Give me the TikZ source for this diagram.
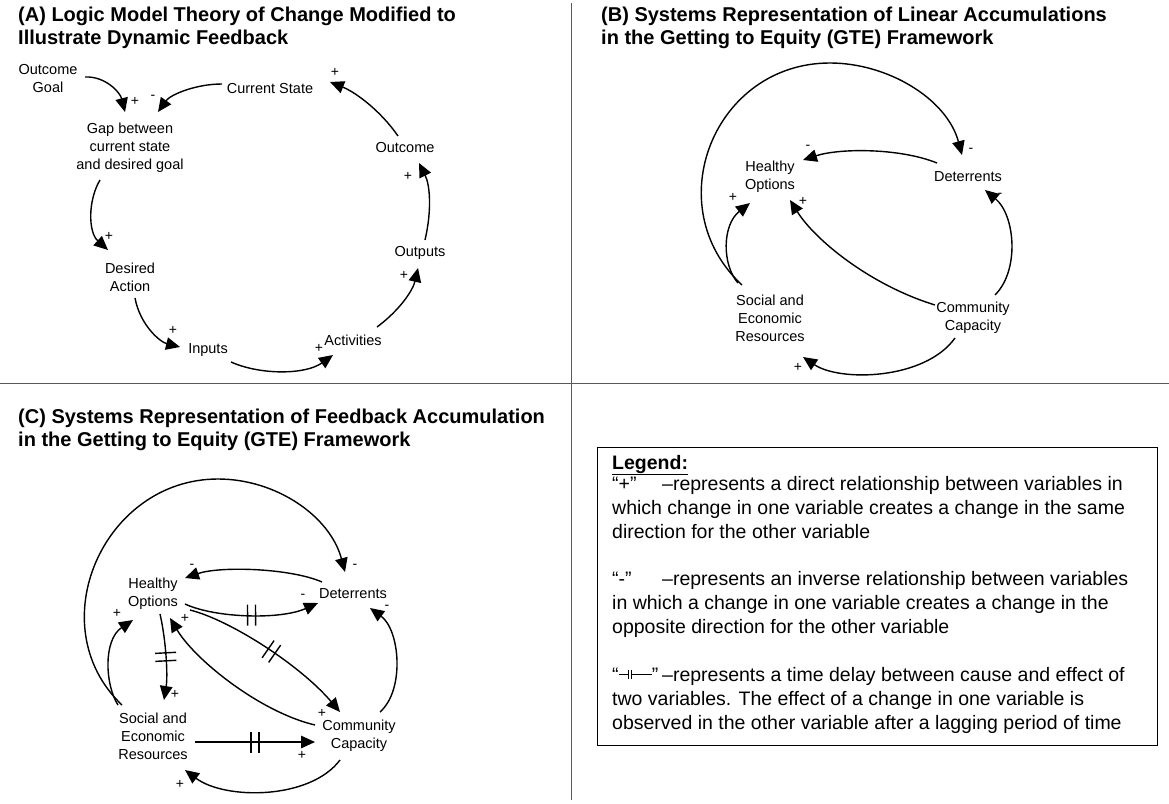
\documentclass[tikz,border=0pt]{standalone}
\usepackage{fontspec}
\setmainfont{Liberation Sans}
\usetikzlibrary{arrows.meta,decorations.markings}
\newcommand\dlysym{\rule[0.3em]{0.5em}{0.05em}\rule[0.1em]{0.05em}{0.45em}\hspace{0.1em}\rule[0.1em]{0.05em}{0.45em}\rule[0.3em]{1.0em}{0.05em}}
\tikzset{
 var/.style={align=center, font=\fontsize{14.5}{18}\selectfont, inner sep=1pt},
 sgn/.style={font=\fontsize{14}{14}\selectfont, inner sep=0pt},
 ttl/.style={font=\fontsize{20}{23}\selectfont\bfseries, anchor=base west, inner sep=0pt},
 lg/.style={font=\fontsize{19.5}{24}\selectfont, anchor=base west, inner sep=0pt},
 arr/.style={line width=1.4pt, -{Triangle[length=14pt,width=12.5pt]}},
 delay/.style={postaction={decorate,decoration={markings,mark=at position #1 with {\draw[line width=1.4pt,-] (-4pt,-10.5pt)--(-4pt,10.5pt) (4pt,-10.5pt)--(4pt,10.5pt);}}}},
 divider/.style={draw=black!65, line width=0.9pt},
}
\begin{document}
\begin{tikzpicture}[x=1pt,y=-1pt]
\useasboundingbox (0,0) rectangle (1169,803);
% dividers
\coordinate (vtop) at (571,3); \coordinate (vbot) at (571,800);
\coordinate (hl) at (0,383); \coordinate (hr) at (1169,383);
\draw[divider] (vtop) -- (vbot);
\draw[divider] (hl) -- (hr);

% ---------------- Panel A
\node[ttl] (tA1) at (18,21) {(A) Logic Model Theory of Change Modified to};
\node[ttl] (tA2) at (18,44) {Illustrate Dynamic Feedback};
\node[var] (og) at (48,79) {Outcome\\Goal};
\node[var] (cs) at (270,89) {Current State};
\node[var] (gap) at (130,148) {Gap between\\current state\\and desired goal};
\node[var] (dact) at (130,277) {Desired\\Action};
\node[var] (inp) at (208,350) {Inputs};
\node[var] (act) at (353,340) {Activities};
\node[var] (outp) at (420,253) {Outputs};
\node[var] (outc) at (405,148) {Outcome};

\draw[arr] ([shift={(37,-2)}]og.center) .. controls (105,76) and (120,92) .. ([shift={(-5,-36)}]gap.center);
\draw[arr] ([shift={(-48,-5)}]cs.center) .. controls (195,84) and (170,95) .. ([shift={(28,-36)}]gap.center);
\draw[arr] ([shift={(-30,32)}]gap.center) .. controls (88,200) and (88,232) .. ([shift={(-22,-27)}]dact.center);
\draw[arr] ([shift={(5,21)}]dact.center) .. controls (140,325) and (160,342) .. ([shift={(-28,-3)}]inp.center);
\draw[arr] ([shift={(23,12)}]inp.center) .. controls (260,375) and (305,375) .. ([shift={(-20,15)}]act.center);
\draw[arr] ([shift={(24,-13)}]act.center) .. controls (400,310) and (413,290) .. ([shift={(-2,15)}]outp.center);
\draw[arr] ([shift={(5,-13)}]outp.center) .. controls (432,210) and (430,185) .. ([shift={(14,15)}]outc.center);
\draw[arr] ([shift={(-7,-12)}]outc.center) .. controls (380,110) and (355,92) .. ([shift={(60,-7)}]cs.center);

\node[sgn] (sa1) at (135,101) {+};
\node[sgn] (sa2) at (153,97) {-};
\node[sgn] (sa3) at (109,236) {+};
\node[sgn] (sa4) at (173,330) {+};
\node[sgn] (sa5) at (319,348) {+};
\node[sgn] (sa6) at (404,275) {+};
\node[sgn] (sa7) at (408,176) {+};
\node[sgn] (sa8) at (335,72) {+};

% ---------------- Panel B
\node[ttl] (tB1) at (601,21) {(B) Systems Representation of Linear Accumulations};
\node[ttl] (tB2) at (601,44) {in the Getting to Equity (GTE) Framework};
\node[var] (ho) at (770,177) {Healthy\\Options};
\node[var] (det) at (968,177) {Deterrents};
\node[var] (ser) at (770,318) {Social and\\Economic\\Resources};
\node[var] (cc) at (973,318) {Community\\Capacity};

\draw[arr] ([shift={(-31,-14)}]det.center) .. controls (900,148) and (840,148) .. ([shift={(33,-17)}]ho.center);
\draw[arr] ([shift={(-28,-33)}]ser.center) .. controls (657,206) and (714,63) .. (830,63) .. controls (888,63) and (947,99) .. ([shift={(-6,-22)}]det.center);
\draw[arr] ([shift={(-32,-35)}]ser.center) .. controls (722,265) and (722,225) .. ([shift={(-20,26)}]ho.center);
\draw[arr] ([shift={(-38,-13)}]cc.center) .. controls (870,285) and (815,240) .. ([shift={(20,23)}]ho.center);
\draw[arr] ([shift={(22,-23)}]cc.center) .. controls (1020,270) and (1015,215) .. ([shift={(17,13)}]det.center);
\draw[arr] ([shift={(-18,20)}]cc.center) .. controls (925,380) and (840,382) .. ([shift={(33,39)}]ser.center);

\node[sgn] (sb1) at (808,147) {-};
\node[sgn] (sb2) at (971,150) {-};
\node[sgn] (sb3) at (733,197) {+};
\node[sgn] (sb4) at (803,201) {+};
\node[sgn] (sb5) at (1000,195) {-};
\node[sgn] (sb6) at (798,367) {+};

% ---------------- Panel C
\node[ttl] (tC1) at (18,423) {(C) Systems Representation of Feedback Accumulation};
\node[ttl] (tC2) at (18,446) {in the Getting to Equity (GTE) Framework};
\node[var] (ho2) at (153,594) {Healthy\\Options};
\node[var] (det2) at (353,594) {Deterrents};
\node[var] (ser2) at (153,736) {Social and\\Economic\\Resources};
\node[var] (cc2) at (359,736) {Community\\Capacity};

\draw[arr] ([shift={(-31,-31)}]ser2.center) .. controls (39,626) and (103,479) .. (218,479) .. controls (276,479) and (330,516) .. ([shift={(-8,-22)}]det2.center);
\draw[arr] ([shift={(-31,-12)}]det2.center) .. controls (290,568) and (220,566) .. ([shift={(32,-16)}]ho2.center);
\draw[arr,delay=0.5] ([shift={(32,10)}]ho2.center) .. controls (215,618) and (280,620) .. ([shift={(-35,9)}]det2.center);
\draw[arr,delay=0.5] ([shift={(37,16)}]ho2.center) .. controls (230,620) and (300,665) .. ([shift={(-19,-24)}]cc2.center);
\draw[arr] ([shift={(-44,-11)}]cc2.center) .. controls (260,712) and (195,660) .. ([shift={(17,24)}]ho2.center);
\draw[arr,delay=0.5] ([shift={(7,20)}]ho2.center) .. controls (166,640) and (168,675) .. ([shift={(11,-36)}]ser2.center);
\draw[arr] ([shift={(-35,-31)}]ser2.center) .. controls (105,685) and (103,640) .. ([shift={(-20,26)}]ho2.center);
\draw[arr,delay=0.5] ([shift={(42,6)}]ser2.center) -- ([shift={(-44,6)}]cc2.center);
\draw[arr] ([shift={(21,-24)}]cc2.center) .. controls (405,690) and (400,630) .. ([shift={(17,14)}]det2.center);
\draw[arr] ([shift={(-19,24)}]cc2.center) .. controls (310,800) and (225,800) .. ([shift={(32,34)}]ser2.center);

\node[sgn] (sc1) at (355,566) {-};
\node[sgn] (sc2) at (192,566) {-};
\node[sgn] (sc3) at (303,596) {-};
\node[sgn] (sc4) at (322,713) {+};
\node[sgn] (sc5) at (185,618) {+};
\node[sgn] (sc6) at (175,694) {+};
\node[sgn] (sc7) at (117,613) {+};
\node[sgn] (sc8) at (302,755) {+};
\node[sgn] (sc9) at (387,607) {-};
\node[sgn] (sc10) at (180,784) {+};

% ---------------- Legend
\node[draw, line width=1.2pt, minimum width=560pt, minimum height=298pt, anchor=north west, inner sep=0pt] (lbox) at (597,447) {};
\node[lg] (lg0) at (612,469) {\underline{\textbf{Legend:}}};
\node[lg] (lg1) at (612,490) {\makebox[50pt][l]{“+”}–represents a direct relationship between variables in};
\node[lg] (lg2) at (612,514) {which change in one variable creates a change in the same};
\node[lg] (lg3) at (612,538) {direction for the other variable};
\node[lg] (lg4) at (612,585) {\makebox[50pt][l]{“-”}–represents an inverse relationship between variables};
\node[lg] (lg5) at (612,609) {in which a change in one variable creates a change in the};
\node[lg] (lg6) at (612,633) {opposite direction for the other variable};
\node[lg] (lg7) at (612,681) {\makebox[50pt][l]{“\dlysym”}–represents a time delay between cause and effect of};
\node[lg] (lg8) at (612,705) {two variables. The effect of a change in one variable is};
\node[lg] (lg9) at (612,729) {observed in the other variable after a lagging period of time};
\end{tikzpicture}
\end{document}
